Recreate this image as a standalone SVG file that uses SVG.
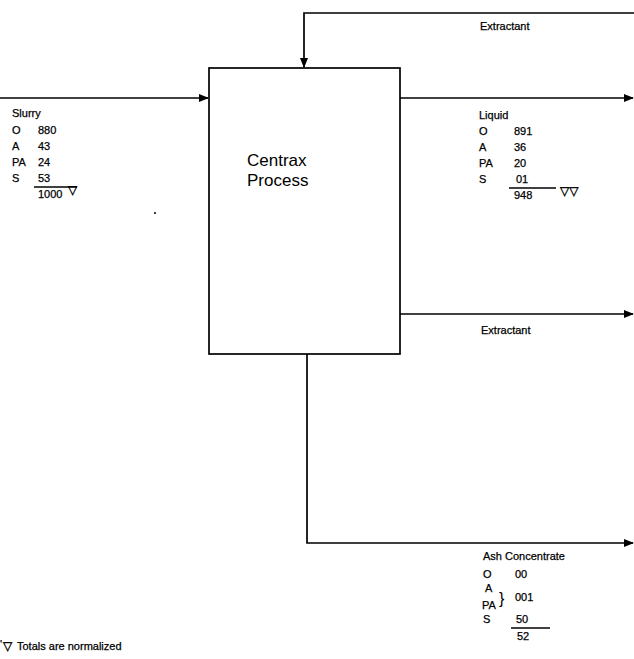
<svg xmlns="http://www.w3.org/2000/svg" width="634" height="659" viewBox="0 0 634 659">
<style>
.ln{fill:none;stroke:#000;stroke-width:1.7}
.t{font-family:"Liberation Sans",Arial,sans-serif;font-size:11px;fill:#000;stroke:#000;stroke-width:0.25}
.tri{font-family:"DejaVu Sans",sans-serif;font-size:12px;fill:#000;stroke:#000;stroke-width:0.4}
.big{font-family:"Liberation Sans",Arial,sans-serif;font-size:17px;fill:#000}
</style>
<defs>
<marker id="ah" markerWidth="10" markerHeight="8" refX="9" refY="4" orient="auto" markerUnits="userSpaceOnUse">
<path d="M0,0 L10,4 L0,8 Z" fill="#000"/>
</marker>
</defs>
<g id="connectors">
<path class="ln" d="M634,13 L304,13 L304,67" marker-end="url(#ah)"/>
<path class="ln" d="M0,98 L208,98" marker-end="url(#ah)"/>
<path class="ln" d="M400,98 L633,98" marker-end="url(#ah)"/>
<path class="ln" d="M400,314 L633,314" marker-end="url(#ah)"/>
<path class="ln" d="M307,354 L307,543 L633,543" marker-end="url(#ah)"/>
</g>
<g id="centrax">
<rect x="209" y="68" width="191" height="286" fill="#fff" stroke="#000" stroke-width="1.7"/>
<text class="big" x="247" y="166">Centrax</text>
<text class="big" x="247" y="186">Process</text>
</g>
<g id="slurry">
<text class="t" x="12" y="117">Slurry</text>
<text class="t" x="12" y="134">O</text><text class="t" x="38" y="134">880</text>
<text class="t" x="12" y="150">A</text><text class="t" x="38" y="150">43</text>
<text class="t" x="12" y="166">PA</text><text class="t" x="38" y="166">24</text>
<text class="t" x="12" y="182">S</text><text class="t" x="38" y="182">53</text>
<line class="ln" x1="34" y1="187" x2="77" y2="187" stroke-width="1.2"/>
<text class="t" x="38" y="198">1000</text>
<text class="tri" x="68" y="194">▽</text>
</g>
<circle cx="155" cy="213" r="1" fill="#000"/>
<g id="extractant-in">
<text class="t" x="480" y="30">Extractant</text>
</g>
<g id="liquid">
<text class="t" x="479" y="119">Liquid</text>
<text class="t" x="479" y="135">O</text><text class="t" x="514" y="135">891</text>
<text class="t" x="479" y="151">A</text><text class="t" x="514" y="151">36</text>
<text class="t" x="479" y="167">PA</text><text class="t" x="514" y="167">20</text>
<text class="t" x="479" y="183">S</text><text class="t" x="516" y="183">01</text>
<line class="ln" x1="509" y1="188" x2="556" y2="188" stroke-width="1.2"/>
<text class="t" x="514" y="199">948</text>
<text class="tri" x="560" y="195">▽▽</text>
</g>
<g id="extractant-out">
<text class="t" x="481" y="334">Extractant</text>
</g>
<g id="ash">
<text class="t" x="483" y="560">Ash Concentrate</text>
<text class="t" x="483" y="578">O</text><text class="t" x="515" y="578">00</text>
<text class="t" x="485" y="592">A</text>
<text class="t" x="482" y="609">PA</text>
<text class="t" x="499" y="604" style="font-size:16px;stroke-width:0">}</text>
<text class="t" x="515" y="601">001</text>
<text class="t" x="483" y="623">S</text><text class="t" x="516" y="623">50</text>
<line class="ln" x1="511" y1="628" x2="550" y2="628" stroke-width="1.2"/>
<text class="t" x="517" y="640">52</text>
</g>
<g id="footnote">
<text class="t" x="0" y="648">'</text>
<text class="tri" x="3" y="650">▽</text>
<text class="t" x="17" y="650">Totals are normalized</text>
</g>
</svg>
